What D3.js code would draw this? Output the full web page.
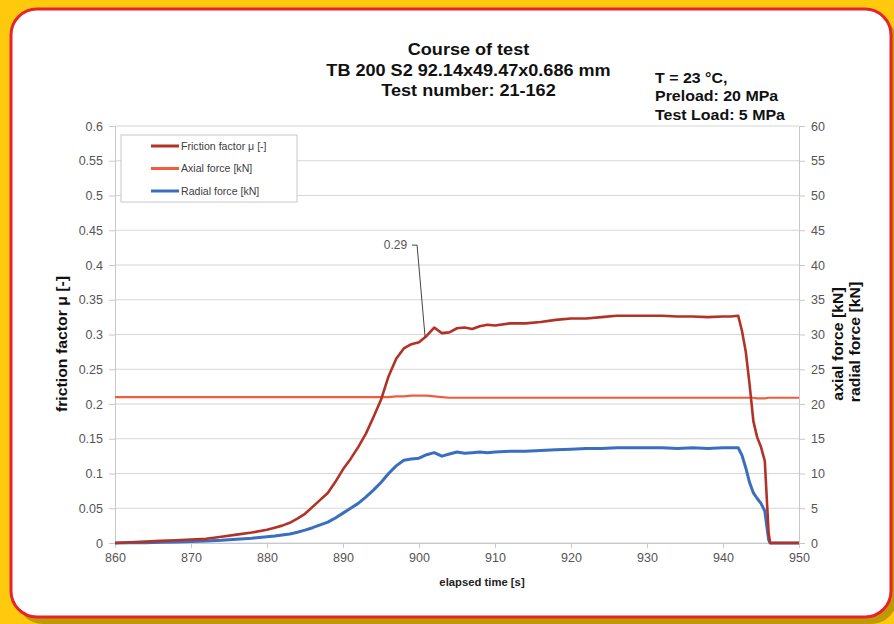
<!DOCTYPE html>
<html>
<head>
<meta charset="utf-8">
<script src="https://cdn.jsdelivr.net/npm/d3@7"></script>
<style>
  body { margin: 0; background: #ffc90e; }
  svg { display: block; font-family: "Liberation Sans", Arial, sans-serif; }
</style>
</head>
<body>
<div id="chart"></div>
<script>
// elapsed time [s]
const time = [860, 862, 864, 866, 868, 870, 872, 874, 876, 878, 880,
  881, 882, 883, 884, 885, 886, 887, 888, 889, 890, 891, 892, 893, 894, 895,
  896, 897, 898, 899, 900, 901, 902, 903, 904, 905, 906, 907, 908, 909, 910,
  912, 914, 916, 918, 920, 922, 924, 926, 928, 930, 932, 934, 936, 938, 940,
  941, 942, 942.5, 943, 943.5, 944, 944.5, 945, 945.5, 946, 946.2, 947, 948, 949, 950];

// friction factor mu [-]
const friction = [0, 0.001, 0.002, 0.003, 0.004, 0.005, 0.006, 0.009, 0.012, 0.015, 0.019,
  0.022, 0.025, 0.029, 0.035, 0.042, 0.052, 0.062, 0.072, 0.088, 0.106, 0.121, 0.138, 0.157, 0.181, 0.206,
  0.24, 0.265, 0.28, 0.286, 0.289, 0.298, 0.31, 0.302, 0.303, 0.309, 0.31, 0.308, 0.312, 0.314, 0.313,
  0.316, 0.316, 0.318, 0.321, 0.323, 0.323, 0.325, 0.327, 0.327, 0.327, 0.327, 0.326, 0.326, 0.325, 0.326,
  0.326, 0.327, 0.305, 0.275, 0.228, 0.175, 0.152, 0.138, 0.118, 0.015, 0, 0, 0, 0, 0];

// axial force [kN]
const axial = [21.0, 21.0, 21.0, 21.0, 21.0, 21.0, 21.0, 21.0, 21.0, 21.0, 21.0,
  21.0, 21.0, 21.0, 21.0, 21.0, 21.0, 21.0, 21.0, 21.0, 21.0, 21.0, 21.0, 21.0, 21.0, 21.0,
  21.0, 21.1, 21.1, 21.2, 21.2, 21.2, 21.1, 21.0, 20.9, 20.9, 20.9, 20.9, 20.9, 20.9, 20.9,
  20.9, 20.9, 20.9, 20.9, 20.9, 20.9, 20.9, 20.9, 20.9, 20.9, 20.9, 20.9, 20.9, 20.9, 20.9,
  20.9, 20.9, 20.9, 20.9, 20.9, 20.9, 20.8, 20.8, 20.8, 20.9, 20.9, 20.9, 20.9, 20.9, 20.9];

// radial force [kN]
const radial = [0, 0.02, 0.05, 0.1, 0.15, 0.2, 0.3, 0.4, 0.55, 0.7, 0.9,
  1.0, 1.15, 1.3, 1.55, 1.85, 2.2, 2.6, 3.0, 3.6, 4.3, 5.0, 5.7, 6.6, 7.6, 8.7,
  10.0, 11.1, 11.9, 12.1, 12.2, 12.7, 13.0, 12.5, 12.8, 13.1, 12.9, 13.0, 13.1, 13.0, 13.1,
  13.2, 13.2, 13.3, 13.4, 13.5, 13.6, 13.6, 13.7, 13.7, 13.7, 13.7, 13.6, 13.7, 13.6, 13.7,
  13.7, 13.7, 12.6, 10.8, 8.7, 7.2, 6.4, 5.7, 4.6, 0.5, 0, 0, 0, 0, 0];

const xTicks = [860, 870, 880, 890, 900, 910, 920, 930, 940, 950];
const leftTicks = [0, 0.05, 0.1, 0.15, 0.2, 0.25, 0.3, 0.35, 0.4, 0.45, 0.5, 0.55, 0.6];
const rightTicks = [0, 5, 10, 15, 20, 25, 30, 35, 40, 45, 50, 55, 60];

const titleLines = ["Course of test", "TB 200 S2 92.14x49.47x0.686 mm", "Test number: 21-162"];
const infoLines = ["T = 23 °C,", "Preload: 20 MPa", "Test Load: 5 MPa"];
const seriesNames = ["Friction factor μ [-]", "Axial force [kN]", "Radial force [kN]"];
const annotation = { t: 900.8, label: "0.29" };

const W = 894, H = 624;
const plot = { left: 115, right: 799, top: 126, bottom: 543 };
const stretch = 1.13; // the bold lettering in the picture is a bit wide

const svg = d3.select("#chart").append("svg").attr("width", W).attr("height", H);

// frame: yellow page, olive shadow, white card with red border
svg.append("rect").attr("width", W).attr("height", H).attr("fill", "#ffc90e");
svg.append("rect").attr("x", 17).attr("y", 16).attr("width", 880).attr("height", 608)
  .attr("rx", 26).attr("fill", "#bf9a06");
svg.append("rect").attr("x", 11).attr("y", 9).attr("width", 880).attr("height", 608)
  .attr("rx", 26).attr("fill", "#fff").attr("stroke", "#e8232b").attr("stroke-width", 3);

// scales
const x = d3.scaleLinear().domain([860, 950]).range([plot.left, plot.right]);
const yL = d3.scaleLinear().domain([0, 0.6]).range([plot.bottom, plot.top]);
const yR = d3.scaleLinear().domain([0, 60]).range([plot.bottom, plot.top]);

// gridlines
svg.append("g").selectAll("line").data(leftTicks).join("line")
  .attr("x1", plot.left).attr("x2", plot.right)
  .attr("y1", d => yL(d)).attr("y2", d => yL(d))
  .attr("stroke", "#d6d6d9").attr("stroke-width", 1.2);

// axes
const axisColor = "#c8c8cc";
const gl = svg.append("g").attr("transform", `translate(${plot.left},0)`)
  .call(d3.axisLeft(yL).tickValues(leftTicks).tickSize(6).tickPadding(6)
    .tickFormat(d => d3.format("")(+d.toFixed(2))));
const gr = svg.append("g").attr("transform", `translate(${plot.right},0)`)
  .call(d3.axisRight(yR).tickValues(rightTicks).tickSize(6).tickPadding(6));
const gb = svg.append("g").attr("transform", `translate(0,${plot.bottom})`)
  .call(d3.axisBottom(x).tickValues(xTicks).tickSize(5).tickPadding(5).tickFormat(d3.format("d")));

[gl, gr, gb].forEach(g => {
  g.select(".domain").attr("stroke", axisColor);
  g.selectAll(".tick line").attr("stroke", axisColor);
  g.selectAll(".tick text").attr("fill", "#555").style("font-size", "12.5px")
    .style("font-family", "'Liberation Sans', Arial, sans-serif");
});

// series lines
const line = (vals, scale) => d3.line()
  .x((d, i) => x(time[i]))
  .y(d => scale(d))(vals);

svg.append("path").attr("d", line(axial, yR)).attr("fill", "none")
  .attr("stroke", "#f25c3d").attr("stroke-width", 2.2);
svg.append("path").attr("d", line(radial, yR)).attr("fill", "none")
  .attr("stroke", "#3a6ebf").attr("stroke-width", 3).attr("stroke-linejoin", "round");
svg.append("path").attr("d", line(friction, yL)).attr("fill", "none")
  .attr("stroke", "#b23226").attr("stroke-width", 2.6).attr("stroke-linejoin", "round");

// data label 0.29
const aVal = d3.scaleLinear().domain(time).range(friction)(annotation.t);
const ax = x(annotation.t), ay = yL(aVal);
const lx = ax - 8, ly = ay - 92;
svg.append("path")
  .attr("d", `M${lx - 5},${ly} L${lx},${ly} L${ax},${ay}`)
  .attr("fill", "none").attr("stroke", "#444").attr("stroke-width", 1);
svg.append("text").attr("x", lx - 10).attr("y", ly + 4).attr("text-anchor", "end")
  .attr("fill", "#555").style("font-size", "12px").text(annotation.label);

// legend
const colors = ["#b23226", "#f25c3d", "#3a6ebf"];
const lg = svg.append("g").attr("transform", "translate(121,135)");
lg.append("rect").attr("width", 176).attr("height", 67)
  .attr("fill", "#fff").attr("stroke", "#c8c8cc");
seriesNames.forEach((name, i) => {
  const yy = 11 + i * 22.5;
  lg.append("line").attr("x1", 30).attr("x2", 58).attr("y1", yy).attr("y2", yy)
    .attr("stroke", colors[i]).attr("stroke-width", 3);
  lg.append("text").attr("transform", `translate(60,${yy + 3.5}) scale(1.06,1)`)
    .attr("fill", "#404040").style("font-size", "10px").text(name);
});

// titles
svg.append("g").selectAll("text").data(titleLines).join("text")
  .attr("transform", (d, i) => `translate(468.5,${55 + i * 20.5}) scale(${stretch},1)`)
  .attr("text-anchor", "middle").attr("font-weight", "bold")
  .style("font-size", "16px").attr("fill", "#111").text(d => d);

svg.append("g").selectAll("text").data(infoLines).join("text")
  .attr("transform", (d, i) => `translate(655,${83 + i * 18.3}) scale(1.14,1)`)
  .attr("font-weight", "bold").style("font-size", "14px").attr("fill", "#111").text(d => d);

// axis titles
svg.append("text").attr("transform", `translate(67,344) rotate(-90) scale(${stretch},1)`)
  .attr("text-anchor", "middle").attr("font-weight", "bold")
  .style("font-size", "14px").attr("fill", "#111").text("friction factor μ [-]");
svg.append("text").attr("transform", `translate(843,344) rotate(-90) scale(${stretch},1)`)
  .attr("text-anchor", "middle").attr("font-weight", "bold")
  .style("font-size", "14px").attr("fill", "#111").text("axial force [kN]");
svg.append("text").attr("transform", `translate(860,342) rotate(-90) scale(${stretch},1)`)
  .attr("text-anchor", "middle").attr("font-weight", "bold")
  .style("font-size", "14px").attr("fill", "#111").text("radial force [kN]");
svg.append("text").attr("transform", `translate(482,586) scale(${stretch},1)`)
  .attr("text-anchor", "middle")
  .attr("font-weight", "bold").style("font-size", "10px").attr("fill", "#222")
  .text("elapsed time [s]");
</script>
</body>
</html>
